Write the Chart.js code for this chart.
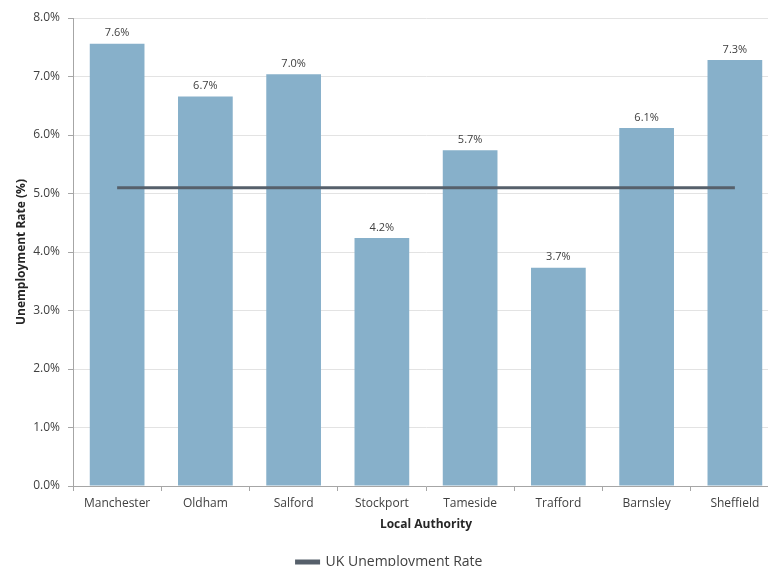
<!DOCTYPE html>
<html>
<head>
<meta charset="utf-8">
<script src="https://cdn.jsdelivr.net/npm/chart.js@4.4.0/dist/chart.umd.min.js"></script>
<style>
  html, body { margin: 0; padding: 0; overflow: hidden; background: #fff; }
  #wrap { position: absolute; left: 0; top: 0; width: 790px; height: 579px; }
</style>
</head>
<body>
<div id="wrap"><canvas id="unempChart" width="790" height="579"></canvas></div>
<script>
const authorities = ["Manchester", "Oldham", "Salford", "Stockport", "Tameside", "Trafford", "Barnsley", "Sheffield"];
const localRates = [7.56, 6.66, 7.04, 4.24, 5.74, 3.73, 6.12, 7.28];
const ukRate = [5.1, 5.1, 5.1, 5.1, 5.1, 5.1, 5.1, 5.1];
const yTicks = [0, 1, 2, 3, 4, 5, 6, 7, 8];

const FONT = "'Open Sans', sans-serif";

// value labels above each bar
const barLabels = {
  id: "barLabels",
  afterDatasetsDraw(chart) {
    const ctx = chart.ctx;
    const meta = chart.getDatasetMeta(0);
    ctx.save();
    ctx.font = "11px " + FONT;
    ctx.fillStyle = "#404040";
    ctx.textAlign = "center";
    ctx.textBaseline = "bottom";
    meta.data.forEach((bar, i) => {
      ctx.fillText(localRates[i].toFixed(1) + "%", bar.x, bar.y - 5);
    });
    ctx.restore();
  },
};

const ctx = document.getElementById("unempChart").getContext("2d");
new Chart(ctx, {
  type: "bar",
  data: {
    labels: authorities,
    datasets: [
      {
        label: "Local Unemployment Rate",
        data: localRates,
        backgroundColor: "#87b0ca",
        borderWidth: 0,
        categoryPercentage: 0.62,
        barPercentage: 1.0,
        order: 2,
      },
      {
        type: "line",
        label: "UK Unemployment Rate",
        data: ukRate,
        borderColor: "#56606b",
        backgroundColor: "#56606b",
        borderWidth: 3,
        pointRadius: 0,
        tension: 0,
        order: 1,
      },
    ],
  },
  options: {
    responsive: false,
    animation: false,
    layout: { padding: { top: 18, right: 11, left: 0, bottom: 0 } },
    plugins: {
      tooltip: { enabled: false },
      legend: {
        position: "bottom",
        labels: {
          filter: (item) => item.datasetIndex === 1,
          boxWidth: 22,
          boxHeight: 2,
          padding: 6,
          color: "#404040",
          font: { family: FONT, size: 14 },
        },
      },
    },
    scales: {
      x: {
        afterFit: (scale) => { scale.height = 63; },
        grid: {
          offset: true,
          drawOnChartArea: false,
          drawTicks: true,
          tickLength: 5,
          tickColor: "#a6a6a6",
        },
        border: { color: "#a6a6a6", width: 1 },
        ticks: {
          color: "#404040",
          padding: 5,
          maxRotation: 0,
          font: { family: FONT, size: 12 },
        },
        title: {
          display: true,
          text: "Local Authority",
          color: "#262626",
          padding: { top: 4, bottom: 17 },
          font: { family: FONT, size: 12, weight: "bold" },
        },
      },
      y: {
        min: 0,
        max: 8,
        afterFit: (scale) => { scale.width = 73; },
        afterBuildTicks: (scale) => { scale.ticks = yTicks.map((v) => ({ value: v })); },
        grid: {
          color: "#e3e3e3",
          tickColor: "#a6a6a6",
          tickLength: 5,
        },
        border: { color: "#a6a6a6", width: 1 },
        ticks: {
          color: "#404040",
          padding: 8,
          font: { family: FONT, size: 12 },
          callback: (v) => Number(v).toFixed(1) + "%",
        },
        title: {
          display: true,
          text: "Unemployment Rate (%)",
          color: "#262626",
          padding: { top: 14, bottom: 6 },
          font: { family: FONT, size: 12, weight: "bold" },
        },
      },
    },
  },
  plugins: [barLabels],
});
</script>
</body>
</html>
